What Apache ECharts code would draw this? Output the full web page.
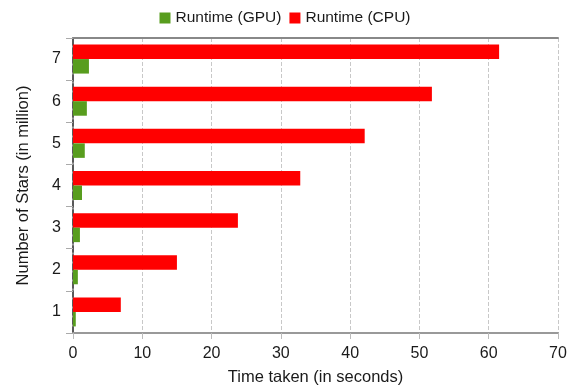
<!DOCTYPE html>
<html>
<head>
<meta charset="utf-8">
<script src="https://cdn.jsdelivr.net/npm/echarts@6/dist/echarts.min.js"></script>
<style>html,body{margin:0;padding:0;background:#fff;}#c{width:570px;height:389px;}</style>
</head>
<body>
<div id="c"></div>
<script>
const categories = ['1', '2', '3', '4', '5', '6', '7'];
const gpuValues = [0.4, 0.7, 1.0, 1.3, 1.7, 2.0, 2.3];
const cpuValues = [6.9, 15.0, 23.8, 32.8, 42.1, 51.8, 61.5];
const xTicks = [0, 10, 20, 30, 40, 50, 60, 70];

const font = '"Liberation Sans", Arial, sans-serif';
const chart = echarts.init(document.getElementById('c'));
chart.setOption({
  animation: false,
  textStyle: { fontFamily: font },
  legend: {
    top: 5, left: 'center',
    itemWidth: 11, itemHeight: 11, itemGap: 8,
    textStyle: { fontSize: 15.5, color: '#1a1a1a', fontFamily: font },
    data: [{ name: 'Runtime (GPU)', icon: 'rect' }, { name: 'Runtime (CPU)', icon: 'rect' }]
  },
  grid: { left: 73, right: 12, top: 38, bottom: 56, containLabel: false, outerBoundsMode: 'none' },
  xAxis: [{
    type: 'value', min: xTicks[0], max: xTicks[xTicks.length - 1], interval: 10,
    name: 'Time taken (in seconds)', nameLocation: 'middle', nameGap: 36,
    nameTextStyle: { fontSize: 16.5, color: '#1a1a1a', fontFamily: font },
    axisLine: { show: true, lineStyle: { color: '#999', width: 2 } },
    axisTick: { show: true, length: 6, lineStyle: { color: '#bbb' } },
    axisLabel: { fontSize: 16, color: '#1a1a1a', margin: 13, fontFamily: font },
    splitLine: { show: true, lineStyle: { color: '#c8c8c8', type: 'dashed', width: 1 } }
  }, {
    type: 'value', position: 'top', min: 0, max: 70,
    axisLine: { show: true, onZero: false, lineStyle: { color: '#888', width: 2 } },
    axisTick: { show: false }, axisLabel: { show: false }, splitLine: { show: false }
  }],
  yAxis: [{
    type: 'category', data: categories,
    name: 'Number of Stars (in million)', nameLocation: 'middle', nameGap: 41,
    nameTextStyle: { fontSize: 16.5, color: '#1a1a1a', fontFamily: font },
    axisLine: { show: true, lineStyle: { color: '#999', width: 2 } },
    axisTick: { show: true, length: 7, lineStyle: { color: '#aaa' } },
    axisLabel: { fontSize: 16, color: '#1a1a1a', margin: 12, fontFamily: font }
  }, {
    type: 'category', data: categories, position: 'right',
    axisLine: { show: true, lineStyle: { color: '#444', width: 1.5, type: 'dashed' } },
    axisTick: { show: false }, axisLabel: { show: false }, splitLine: { show: false }
  }],
  series: [{
    name: 'Runtime (CPU)', type: 'bar', data: cpuValues,
    barWidth: 14.5, barGap: '0%',
    itemStyle: { color: '#ff0000' }
  }, {
    name: 'Runtime (GPU)', type: 'bar', data: gpuValues,
    barWidth: 14.5, barGap: '0%',
    itemStyle: { color: '#589d1e' }
  }]
});
</script>
</body>
</html>
